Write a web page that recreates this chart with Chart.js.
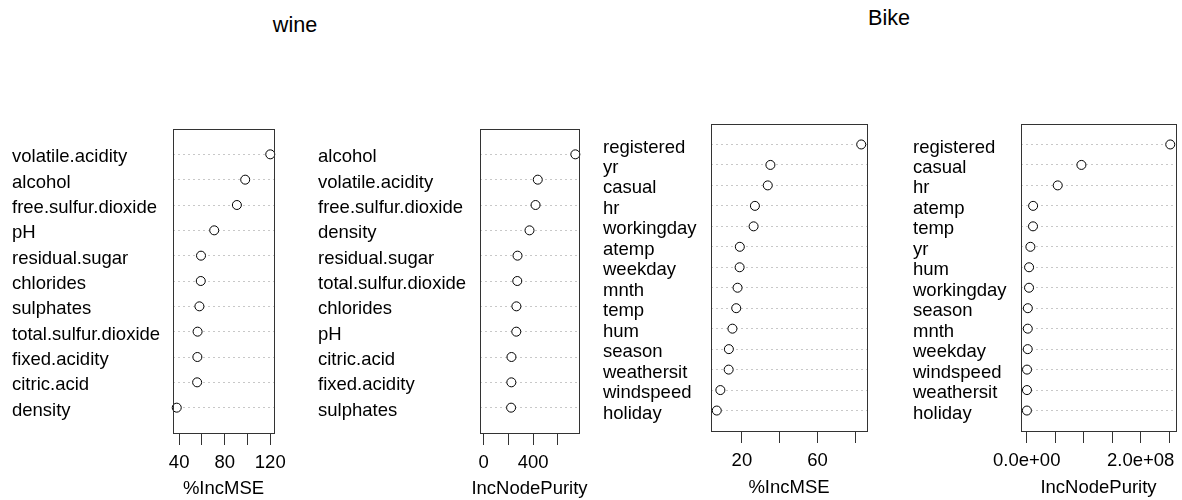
<!DOCTYPE html>
<html>
<head>
<meta charset="utf-8">
<script src="https://cdn.jsdelivr.net/npm/chart.js@4.4.1/dist/chart.umd.min.js"></script>
<style>
  body { margin: 0; background: #fff; width: 1182px; height: 500px; position: relative; overflow: hidden; }
  canvas { position: absolute; top: 0; }
  .main-title { position: absolute; font: 21.6px "Liberation Sans", Arial, sans-serif; color: #000; transform: translate(-50%, -50%); white-space: nowrap; }
</style>
</head>
<body>
<div class="main-title" style="left:295px; top:25px;">wine</div>
<div class="main-title" style="left:889px; top:18px;">Bike</div>
<canvas id="wineMse"></canvas>
<canvas id="winePurity"></canvas>
<canvas id="bikeMse"></canvas>
<canvas id="bikePurity"></canvas>
<script>
// Data (top row first)
const wineMseLabels = ['volatile.acidity', 'alcohol', 'free.sulfur.dioxide', 'pH', 'residual.sugar', 'chlorides',
    'sulphates', 'total.sulfur.dioxide', 'fixed.acidity', 'citric.acid', 'density'];
const wineMseValues = [120, 98, 90.7, 70.8, 59.2, 59.0, 57.8, 56.2, 56.0, 55.8, 37.9];
const wineMseTicks = [40, 60, 80, 100, 120];
const wineMseTickLabels = ['40', '', '80', '', '120'];

const winePurityLabels = ['alcohol', 'volatile.acidity', 'free.sulfur.dioxide', 'density', 'residual.sugar',
    'total.sulfur.dioxide', 'chlorides', 'pH', 'citric.acid', 'fixed.acidity', 'sulphates'];
const winePurityValues = [742, 438, 420, 371, 274, 272, 265, 264, 225, 224, 222];
const winePurityTicks = [0, 200, 400, 600];
const winePurityTickLabels = ['0', '', '400', ''];

const bikeMseLabels = ['registered', 'yr', 'casual', 'hr', 'workingday', 'atemp', 'weekday', 'mnth', 'temp',
    'hum', 'season', 'weathersit', 'windspeed', 'holiday'];
const bikeMseValues = [83.2, 35.1, 33.7, 26.9, 26.2, 18.9, 18.8, 17.7, 17.0, 15.0, 13.1, 13.0, 8.6, 6.7];
const bikeMseTicks = [20, 40, 60, 80];
const bikeMseTickLabels = ['20', '', '60', ''];

const bikePurityLabels = ['registered', 'casual', 'hr', 'atemp', 'temp', 'yr', 'hum', 'workingday', 'season',
    'mnth', 'weekday', 'windspeed', 'weathersit', 'holiday'];
const bikePurityValues = [2.52e8, 9.6e7, 5.44e7, 1.12e7, 1.1e7, 6.4e6, 4.1e6, 4.0e6, 1.9e6, 1.8e6, 1.7e6, 5e5, 4e5, 3e5];
const bikePurityTicks = [0, 5e7, 1e8, 1.5e8, 2e8, 2.5e8];
const bikePurityTickLabels = ['0.0e+00', '', '', '', '2.0e+08', ''];

const FONT = '"Liberation Sans", Arial, sans-serif';
const FONT_SIZE = 18.5;

function makePanel(id, labels, values, ticks, tickLabels, title, fromZero, geo) {
    const canvas = document.getElementById(id);
    const w = geo.boxRight - geo.left + geo.padRight;
    canvas.width = w;
    canvas.height = 500;
    canvas.style.left = geo.left + 'px';

    const n = labels.length;
    // R dotchart style x range: 4% extension round the data range
    const lo = fromZero ? 0 : Math.min(...values);
    const hi = Math.max(...values);
    const ext = (hi - lo) * 0.04;

    const points = values.map((v, i) => ({ x: v, y: n - i }));

    // box round the plot region + x axis title (not squeezed into the box width)
    const boxPlugin = {
        id: 'box',
        afterDraw(chart) {
            const a = chart.chartArea;
            const ctx = chart.ctx;
            ctx.save();
            ctx.strokeStyle = '#333';
            ctx.lineWidth = 1;
            ctx.strokeRect(Math.round(a.left) + 0.5, Math.round(a.top) + 0.5,
                Math.round(a.right - a.left), Math.round(a.bottom - a.top));
            ctx.fillStyle = '#000';
            ctx.font = FONT_SIZE + 'px ' + FONT;
            ctx.textAlign = 'center';
            ctx.textBaseline = 'middle';
            ctx.fillText(title, (a.left + a.right) / 2, geo.titleY);
            ctx.restore();
        }
    };

    new Chart(canvas, {
        type: 'scatter',
        data: {
            datasets: [{
                data: points,
                pointRadius: 4.5,
                pointHoverRadius: 4.5,
                pointBorderWidth: 1,
                borderColor: '#000',
                backgroundColor: '#fff',
                clip: false
            }]
        },
        plugins: [boxPlugin],
        options: {
            responsive: false,
            animation: false,
            devicePixelRatio: 1,
            layout: { padding: { top: geo.boxTop, right: geo.padRight, left: 0, bottom: 0 } },
            plugins: { legend: { display: false }, tooltip: { enabled: false } },
            scales: {
                x: {
                    type: 'linear',
                    min: lo - ext,
                    max: hi + ext,
                    afterBuildTicks: s => { s.ticks = ticks.map(v => ({ value: v })); },
                    afterFit: s => { s.height = 500 - geo.boxBottom; s.paddingLeft = 0; s.paddingRight = 0; },
                    grid: { drawOnChartArea: false, drawTicks: true, tickLength: 12, tickColor: '#333', color: '#333' },
                    border: { display: false },
                    ticks: {
                        autoSkip: false, maxRotation: 0, padding: 7, color: '#000',
                        font: { family: FONT, size: FONT_SIZE },
                        callback: (v, i) => tickLabels[i]
                    }
                },
                y: {
                    type: 'linear',
                    min: 0,
                    max: n + 1,
                    afterBuildTicks: s => { s.ticks = labels.map((l, i) => ({ value: n - i })); },
                    afterFit: s => { s.width = geo.boxLeft - geo.left; s.paddingTop = 0; s.paddingBottom = 0; },
                    grid: { drawTicks: false, color: '#c8c8c8', lineWidth: 1 },
                    border: { display: false, dash: [2, 3] },
                    ticks: {
                        autoSkip: false, crossAlign: 'far', padding: 0, labelOffset: 3, color: '#000',
                        font: { family: FONT, size: FONT_SIZE },
                        callback: v => labels[n - v]
                    }
                }
            }
        }
    });
}

makePanel('wineMse', wineMseLabels, wineMseValues, wineMseTicks, wineMseTickLabels, '%IncMSE', false,
    { left: 12, boxLeft: 173, boxRight: 274, boxTop: 129, boxBottom: 433, padRight: 20, titleY: 489 });
makePanel('winePurity', winePurityLabels, winePurityValues, winePurityTicks, winePurityTickLabels, 'IncNodePurity', true,
    { left: 318, boxLeft: 480, boxRight: 579, boxTop: 129, boxBottom: 433, padRight: 20, titleY: 489 });
makePanel('bikeMse', bikeMseLabels, bikeMseValues, bikeMseTicks, bikeMseTickLabels, '%IncMSE', false,
    { left: 603, boxLeft: 711, boxRight: 867, boxTop: 124, boxBottom: 431, padRight: 20, titleY: 488 });
makePanel('bikePurity', bikePurityLabels, bikePurityValues, bikePurityTicks, bikePurityTickLabels, 'IncNodePurity', true,
    { left: 913, boxLeft: 1021, boxRight: 1176, boxTop: 124, boxBottom: 431, padRight: 6, titleY: 488 });
</script>
</body>
</html>
